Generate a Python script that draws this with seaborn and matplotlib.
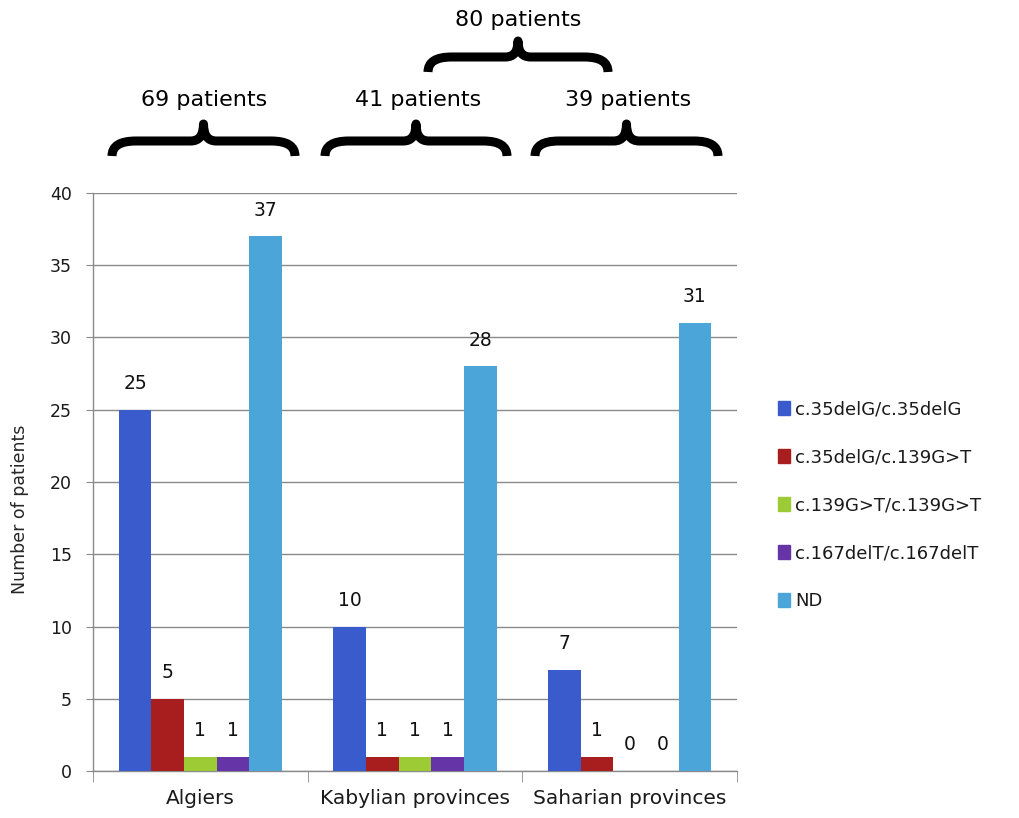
import numpy as np
import pandas as pd
import matplotlib
matplotlib.use("Agg")
import matplotlib.pyplot as plt
from matplotlib.path import Path
from matplotlib.patches import PathPatch
import seaborn as sns

# ── Data ─────────────────────────────────────────────────────────────────────
REGIONS   = ["Algiers", "Kabylian provinces", "Saharian provinces"]
GENOTYPES = ["c.35delG/c.35delG", "c.35delG/c.139G>T", "c.139G>T/c.139G>T",
             "c.167delT/c.167delT", "ND"]
COUNTS = {
    "c.35delG/c.35delG":   [25, 10, 7],
    "c.35delG/c.139G>T":   [5, 1, 1],
    "c.139G>T/c.139G>T":   [1, 1, 0],
    "c.167delT/c.167delT": [1, 1, 0],
    "ND":                  [37, 28, 31],
}
COLORS = ["#3a5bcb", "#a81e1e", "#9ccb35", "#6535a8", "#4ba5d8"]

GROUP_LABELS = ["69 patients", "41 patients", "39 patients", "80 patients"]

W, H = 1019, 818


def px(x, y):
    """pixel (y down) -> figure fraction"""
    return x / W, 1 - y / H


def brace(fig, x0, x1, y_tip, y_arm, y_end, lw=6.5):
    xm = (x0 + x1) / 2
    w = x1 - x0
    pts = [
        (x0, y_end), (x0, y_arm), (x0 + 0.13 * w, y_arm),
        (xm - 0.07 * w, y_arm),
        (xm, y_arm), (xm, y_tip),
        (xm, y_arm), (xm + 0.07 * w, y_arm),
        (x1 - 0.13 * w, y_arm),
        (x1, y_arm), (x1, y_end),
    ]
    codes = [Path.MOVETO, Path.CURVE3, Path.CURVE3, Path.LINETO,
             Path.CURVE3, Path.CURVE3, Path.CURVE3, Path.CURVE3,
             Path.LINETO, Path.CURVE3, Path.CURVE3]
    verts = [px(x, y) for x, y in pts]
    patch = PathPatch(Path(verts, codes), transform=fig.transFigure,
                      fill=False, lw=lw, color="black", capstyle="butt",
                      joinstyle="round")
    fig.patches.append(patch)


df = pd.DataFrame(
    [(r, g, COUNTS[g][i]) for g in GENOTYPES for i, r in enumerate(REGIONS)],
    columns=["region", "genotype", "count"],
)

sns.set_style("white")
plt.rcParams["font.family"] = ["DejaVu Sans"]
plt.rcParams["text.color"] = "#1a1a1a"
plt.rcParams["xtick.color"] = "#1a1a1a"
plt.rcParams["ytick.color"] = "#1a1a1a"

fig = plt.figure(figsize=(W / 100, H / 100), dpi=100)
ax = fig.add_axes([93 / W, 1 - 771 / H, (737 - 93) / W, (771 - 193) / H])

sns.barplot(data=df, x="region", y="count", hue="genotype", order=REGIONS,
            hue_order=GENOTYPES, palette=COLORS, width=0.76, saturation=1,
            edgecolor="none", linewidth=0, ax=ax, zorder=3)

for cont in ax.containers:
    ax.bar_label(cont, fmt="%d", padding=12, fontsize=13.5, color="#111111")

ax.set_ylim(0, 40)
ax.set_yticks(range(0, 41, 5))
ax.set_xlim(-0.5, 2.5)
ax.yaxis.grid(True, color="#8a8a8a", linewidth=1.0, zorder=0)
ax.set_axisbelow(True)
for side in ["top", "right"]:
    ax.spines[side].set_visible(False)
for side in ["left", "bottom"]:
    ax.spines[side].set_color("#8a8a8a")
    ax.spines[side].set_linewidth(1.0)

ax.tick_params(axis="y", direction="out", length=5, color="#8a8a8a",
               labelsize=12.5, left=True, pad=10, labelcolor="#1a1a1a")
ax.tick_params(axis="x", which="major", length=0, labelsize=14.5, pad=13,
               labelcolor="#1a1a1a")
ax.set_xticks([-0.5, 0.5, 1.5, 2.5], minor=True)
ax.tick_params(axis="x", which="minor", direction="out", length=8,
               color="#8a8a8a", bottom=True)
ax.set_xlabel("")
ax.set_ylabel("Number of patients", fontsize=12.5)
ax.yaxis.set_label_coords(-0.1, 0.453)

ax.legend_.remove()
handles = [plt.Rectangle((0, 0), 1, 1, color=c) for c in COLORS]
fig.legend(handles, GENOTYPES, loc="upper left",
           bbox_to_anchor=px(771, 393), frameon=False, fontsize=13,
           handlelength=0.65, handleheight=0.8, handletextpad=0.3,
           labelspacing=1.66, borderaxespad=0)

# ── Group braces ─────────────────────────────────────────────────────────────
brace(fig, 112, 295, 124, 141, 156)
brace(fig, 325, 507, 124, 141, 156)
brace(fig, 535, 718, 124, 141, 156)
brace(fig, 428, 608, 41, 57, 72)

label_pos = [(204, 100), (418, 100), (628, 100), (518, 20)]
for text, (x, y) in zip(GROUP_LABELS, label_pos):
    fig.text(*px(x, y), text, ha="center", va="center", fontsize=16,
             color="black")

fig.savefig("out.png", dpi=100)
